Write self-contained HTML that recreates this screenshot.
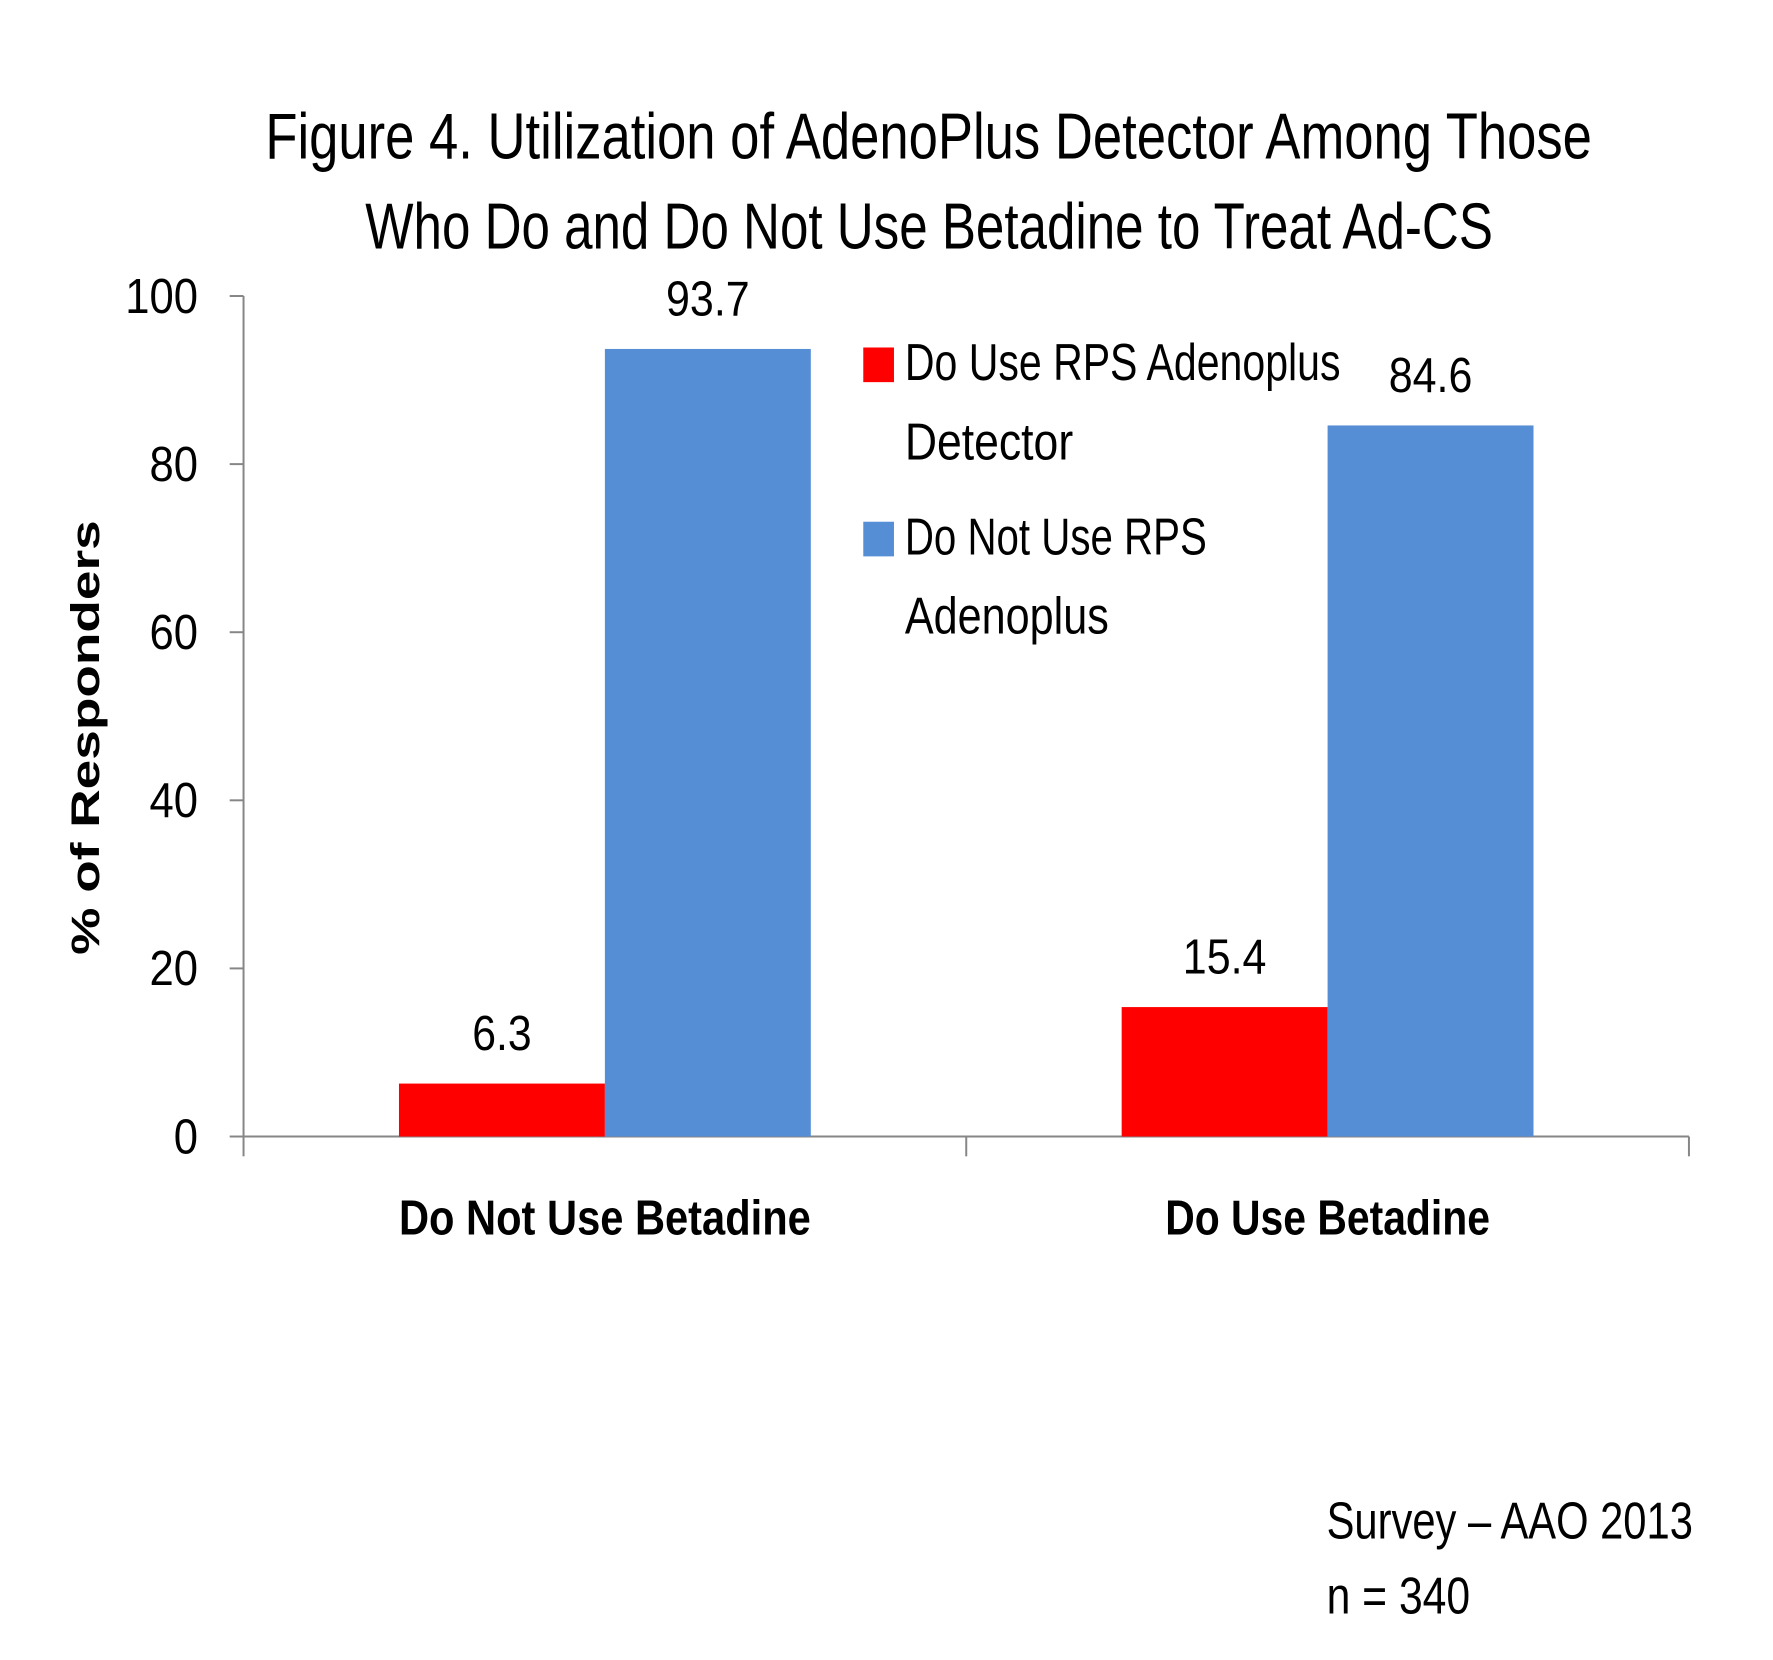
<!DOCTYPE html>
<html><head><meta charset="utf-8"><style>
html,body{margin:0;padding:0;background:#fff;}
svg{display:block;}
text{font-family:"Liberation Sans Narrow","Liberation Sans",sans-serif;fill:#000;}
</style></head><body>
<svg id="chart" width="1773" height="1660" viewBox="0 0 1773 1660" xmlns="http://www.w3.org/2000/svg">
<g transform="scale(0.99)">
<text x="268" y="160" font-size="66" textLength="1340" lengthAdjust="spacingAndGlyphs">Figure 4.  Utilization of AdenoPlus Detector Among Those</text>
<text x="369" y="251" font-size="66" textLength="1139" lengthAdjust="spacingAndGlyphs">Who Do and Do Not Use Betadine to Treat Ad-CS</text>
<g id="axes"></g>
<g id="bars"></g>
<g>
<rect x="872" y="351" width="31" height="35" fill="#ff0000"/>
<text x="914" y="384" font-size="52" textLength="440" lengthAdjust="spacingAndGlyphs">Do Use RPS Adenoplus</text>
<text x="914" y="464" font-size="52" textLength="170" lengthAdjust="spacingAndGlyphs">Detector</text>
<rect x="872" y="527" width="31" height="35" fill="#558ed5"/>
<text x="914" y="560" font-size="52" textLength="305" lengthAdjust="spacingAndGlyphs">Do Not Use RPS</text>
<text x="914" y="640" font-size="52" textLength="206" lengthAdjust="spacingAndGlyphs">Adenoplus</text>
</g>
<text transform="translate(100,745) rotate(-90)" text-anchor="middle" font-size="40" font-weight="bold" style="font-family:'Liberation Sans',sans-serif" textLength="439" lengthAdjust="spacingAndGlyphs">% of Responders</text>
<text x="1340" y="1554" font-size="52" textLength="370" lengthAdjust="spacingAndGlyphs">Survey – AAO 2013</text>
<text x="1340" y="1630" font-size="52" textLength="145" lengthAdjust="spacingAndGlyphs">n = 340</text>
</g>
</svg>
<script>
const categories = ["Do Not Use Betadine", "Do Use Betadine"];
const seriesUse = [6.3, 15.4];
const seriesNotUse = [93.7, 84.6];
const yTicks = [0, 20, 40, 60, 80, 100];
const valueLabelsUse = ["6.3", "15.4"];
const valueLabelsNotUse = ["93.7", "84.6"];

const NS = "http://www.w3.org/2000/svg";
const x0 = 246, x1 = 1706, yBase = 1148, yTop = 299;
const yScale = v => yBase - (v / 100) * (yBase - yTop);
const bandW = (x1 - x0) / categories.length;
const barW = 208;
const catCenter = i => x0 + bandW * (i + 0.5);
const numW = s => { let w = 0; for (const ch of s) w += (ch === '.') ? 11 : 24.5; return w; };
function mk(tag, attrs, parent) {
  const e = document.createElementNS(NS, tag);
  for (const k in attrs) e.setAttribute(k, attrs[k]);
  parent.appendChild(e);
  return e;
}
const axes = document.getElementById('axes');
const bars = document.getElementById('bars');
let ax = mk('line', {x1: x0, y1: yTop, x2: x0, y2: yBase, stroke: '#868686', 'stroke-width': 2}, axes);


let bx = mk('line', {x1: x0, y1: yBase, x2: x1, y2: yBase, stroke: '#868686', 'stroke-width': 2}, axes);


yTicks.forEach(t => {
  const y = yScale(t);
  const tk = mk('line', {x1: x0 - 14, y1: y, x2: x0, y2: y, stroke: '#868686', 'stroke-width': 2}, axes);
  
  
  const s = String(t);
  const lb = mk('text', {x: 200, y: y + 17, 'text-anchor': 'end', 'font-size': 50, textLength: numW(s), lengthAdjust: 'spacingAndGlyphs'}, axes);
  lb.textContent = s;
  
  
});
for (let i = 0; i <= categories.length; i++) {
  const x = x0 + bandW * i;
  const tk = mk('line', {x1: x, y1: yBase, x2: x, y2: yBase + 20, stroke: '#868686', 'stroke-width': 2}, axes);
  
  
}
categories.forEach((c, i) => {
  const cx = catCenter(i);
  const lb = mk('text', {x: cx, y: 1247, 'text-anchor': 'middle', 'font-size': 50, 'font-weight': 'bold', textLength: c.length > 16 ? 416 : 328, lengthAdjust: 'spacingAndGlyphs'}, axes);
  lb.textContent = c;
  
  
  [[seriesUse, '#ff0000', valueLabelsUse, -1, 'bar-use'], [seriesNotUse, '#558ed5', valueLabelsNotUse, 0, 'bar-not-use']].forEach(([s, col, labs, off, nm]) => {
    const bxp = cx + off * barW;
    const y = yScale(s[i]);
    const r = mk('rect', {x: bxp, y: y, width: barW, height: yBase - y, fill: col}, bars);
    
    
    const vl = mk('text', {x: bxp + barW / 2, y: y - 34, 'text-anchor': 'middle', 'font-size': 50, textLength: numW(labs[i]), lengthAdjust: 'spacingAndGlyphs'}, bars);
    vl.textContent = labs[i];
    
    
  });
});
</script>
</body></html>
